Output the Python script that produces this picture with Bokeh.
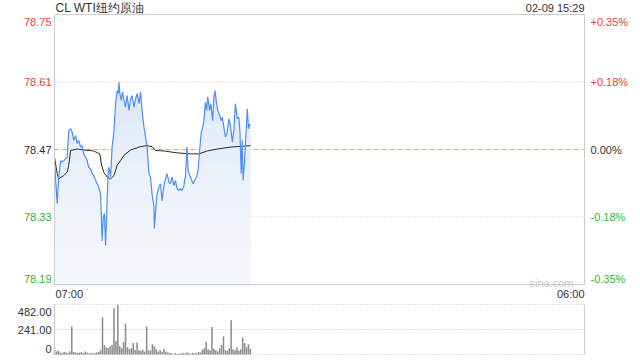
import numpy as np
from bokeh.plotting import figure
from bokeh.models import Range1d, Label
from bokeh.embed import file_html
from bokeh.resources import INLINE

# ---------------- data ----------------
title_text = "CL WTI纽约原油"
time_text = "02-09 15:29"
watermark = "sina.com"
base_price = 78.47
price_ticks = [78.19, 78.33, 78.47, 78.61, 78.75]
price_tick_labels = ["78.19", "78.33", "78.47", "78.61", "78.75"]
pct_labels = ["-0.35%", "-0.18%", "0.00%", "+0.18%", "+0.35%"]
x_labels = ["07:00", "06:00"]
session_minutes = 1380  # 07:00 -> 06:00 next day
vol_ticks = [0, 241, 482]
vol_tick_labels = ["0", "241.00", "482.00"]

# minutes after 07:00
price_min = [0, 7, 11, 16, 20, 24, 29, 33, 37, 42, 46, 50, 55, 59, 63, 68, 72, 76, 81, 85,
             89, 94, 98, 102, 107, 111, 115, 120, 124, 127, 130, 133, 137, 140, 142, 146, 150, 155, 159, 163,
             166, 168, 170, 174, 177, 181, 185, 189, 194, 198, 202, 207, 211, 215, 220, 224, 228, 233, 237, 241,
             246, 250, 254, 259, 260, 264, 267, 272, 276, 280, 285, 289, 293, 298, 302, 306, 311, 315, 319, 324,
             328, 332, 337, 341, 345, 348, 352, 357, 361, 365, 370, 374, 378, 382, 385, 389, 393, 396, 399, 404,
             407, 412, 415, 418, 422, 425, 430, 434, 437, 441, 445, 450, 454, 458, 463, 467, 471, 476, 480, 483,
             486, 489, 491, 495, 498, 502, 505, 508, 510]
price = [78.445, 78.358, 78.413, 78.447, 78.444, 78.447, 78.451, 78.454, 78.509, 78.513, 78.506, 78.489, 78.499, 78.482, 78.489, 78.475, 78.478, 78.461, 78.454, 78.447,
         78.433, 78.430, 78.420, 78.416, 78.406, 78.399, 78.392, 78.378, 78.281, 78.330, 78.337, 78.271, 78.364, 78.427, 78.433, 78.413, 78.475, 78.509, 78.565, 78.592,
         78.586, 78.610, 78.586, 78.572, 78.589, 78.572, 78.558, 78.582, 78.551, 78.575, 78.582, 78.558, 78.575, 78.586, 78.565, 78.589, 78.551, 78.516, 78.496, 78.475,
         78.420, 78.413, 78.378, 78.351, 78.306, 78.351, 78.378, 78.392, 78.399, 78.364, 78.395, 78.409, 78.420, 78.402, 78.399, 78.413, 78.395, 78.406, 78.389, 78.385,
         78.389, 78.385, 78.395, 78.416, 78.475, 78.427, 78.416, 78.406, 78.399, 78.406, 78.413, 78.427, 78.468, 78.506, 78.513, 78.530, 78.568, 78.551, 78.579, 78.551,
         78.565, 78.530, 78.579, 78.592, 78.565, 78.551, 78.541, 78.530, 78.537, 78.516, 78.496, 78.506, 78.534, 78.520, 78.485, 78.509, 78.565, 78.534, 78.537, 78.506,
         78.420, 78.489, 78.406, 78.447, 78.496, 78.554, 78.513, 78.523, 78.520]

avg_min = [0, 7, 11, 24, 33, 37, 42, 59, 76, 102, 118, 122, 128, 137, 146, 155, 163, 172, 181, 198,
           224, 241, 254, 263, 285, 319, 354, 376, 398, 424, 458, 493, 510]
avg_price = [78.454, 78.420, 78.409, 78.416, 78.423, 78.437, 78.468, 78.471, 78.469, 78.467, 78.461, 78.440, 78.423, 78.413, 78.409, 78.416, 78.437, 78.447, 78.458, 78.469,
             78.476, 78.478, 78.476, 78.468, 78.467, 78.463, 78.461, 78.461, 78.467, 78.471, 78.475, 78.477, 78.478]

vol_min = list(range(0, 511, 5))
volume = [60, 30, 35, 20, 15, 25, 20, 15, 30, 270, 25, 20, 15, 20, 25, 15, 30, 20, 10, 15,
          10, 15, 20, 25, 40, 360, 90, 70, 60, 80, 95, 445, 130, 480, 80, 60, 120, 300, 70, 50,
          60, 110, 45, 115, 40, 35, 45, 30, 270, 40, 35, 100, 80, 50, 30, 40, 25, 55, 30, 20,
          15, 10, 8, 12, 6, 10, 8, 15, 10, 20, 12, 8, 15, 10, 12, 25, 20, 45, 60, 120,
          50, 40, 265, 55, 40, 30, 60, 95, 175, 40, 35, 60, 330, 50, 40, 70, 35, 50, 165, 110,
          70, 100, 55]

# ---------------- layout (pixels) ----------------
W, H = 640, 360
FL, FR, FT, FB = 54, 584, 14, 284      # price frame
VT, VB = 304, 354                      # volume frame top / bottom

FONT = "Liberation Sans"
RED = "#f03c3c"
GREEN = "#2eb82e"
DARK = "#333333"
GRID = "#c4c4c4"
BORDER = "#cccccc"
BLUE = "#4f8ff0"

pmin, pmax = price_ticks[0], price_ticks[-1]
vmin, vmax = vol_ticks[0], vol_ticks[-1]
sx = (FR - FL) / session_minutes
sy = (FB - FT) / (pmax - pmin)
sv = (VB - VT) / (vmax - vmin)

p = figure(width=W, height=H,
           x_range=Range1d(0 - FL / sx, session_minutes + (W - FR) / sx),
           y_range=Range1d(pmin - (H - FB) / sy, pmax + FT / sy),
           output_backend="svg", toolbar_location=None,
           min_border=0, min_border_left=0, min_border_right=0, min_border_top=0, min_border_bottom=0)
p.extra_y_ranges = {"vol": Range1d(vmin - (H - VB) / sv, vmax + VT / sv)}
p.xaxis.visible = False
p.yaxis.visible = False
p.grid.visible = False
p.outline_line_color = None
p.background_fill_color = "white"
p.border_fill_color = "white"


def dy(px):
    return px / sy


def dx(px):
    return px / sx


def dv(px):
    return px / sv


# grid lines (price)
for t in price_ticks[1:-1]:
    p.segment(x0=[0], y0=[t], x1=[session_minutes], y1=[t], line_color=GRID, line_dash="1 2", line_width=1)
    if t == base_price:
        p.segment(x0=[0], y0=[t], x1=[session_minutes], y1=[t], line_color="#f29a6c",
                  line_dash="4 4", line_width=1)

# area with vertical fade
pr = np.array(price)
p.varea(x=price_min, y1=pmin, y2=pr, fill_color="#d6e4fa", fill_alpha=1.0)
for L in np.linspace(pmin + 0.04, price_ticks[3], 10):
    p.varea(x=price_min, y1=pmin, y2=np.minimum(pr, L), fill_color="white", fill_alpha=0.14)

p.line(avg_min, avg_price, line_color="#2a2a2a", line_width=1)
p.line(price_min, price, line_color=BLUE, line_width=1.2)

# price frame border
p.segment(x0=[0, 0, 0, session_minutes], y0=[pmin, pmax, pmin, pmin],
          x1=[session_minutes, session_minutes, 0, session_minutes], y1=[pmin, pmax, pmax, pmax],
          line_color=BORDER, line_width=1)

# volume panel
for t in vol_ticks:
    p.segment(x0=[0], y0=[t], x1=[session_minutes], y1=[t], line_color=GRID, line_dash="1 2",
              line_width=1, y_range_name="vol")
p.vbar(x=vol_min, top=volume, width=4, bottom=0, fill_color="#8c8c8c", line_color=None, y_range_name="vol")
p.segment(x0=[0, session_minutes], y0=[vmin, vmin], x1=[0, session_minutes], y1=[vmax, vmax],
          line_color=BORDER, line_width=1, y_range_name="vol")

# price / percent tick labels
n = len(price_ticks)
for i, (t, lab, pl) in enumerate(zip(price_ticks, price_tick_labels, pct_labels)):
    col = DARK if t == base_price else (RED if t > base_price else GREEN)
    yy = t - dy(7) if i == n - 1 else (t + dy(6) if i == 0 else t)
    p.add_layout(Label(x=0 - dx(3), y=yy, text=lab, text_align="right",
                       text_baseline="middle", text_font=FONT, text_font_size="11px", text_color=col))
    p.add_layout(Label(x=session_minutes + dx(6), y=yy, text=pl, text_align="left",
                       text_baseline="middle", text_font=FONT, text_font_size="11px", text_color=col))

# volume tick labels
nv = len(vol_ticks)
for i, (t, lab) in enumerate(zip(vol_ticks, vol_tick_labels)):
    yy = t - dv(7) if i == nv - 1 else (t + dv(6) if i == 0 else t)
    p.add_layout(Label(x=0 - dx(3), y=yy, y_range_name="vol", text=lab, text_align="right",
                       text_baseline="middle", text_font=FONT, text_font_size="11px", text_color=DARK))

# title, time stamp, watermark, time labels
p.add_layout(Label(x=0 + dx(1), y=pmax + dy(7), text=title_text, text_align="left",
                   text_baseline="middle", text_font=FONT, text_font_size="12px", text_color=DARK))
p.add_layout(Label(x=session_minutes, y=pmax + dy(7), text=time_text, text_align="right",
                   text_baseline="middle", text_font=FONT, text_font_size="11px", text_color=DARK))
p.add_layout(Label(x=session_minutes - dx(11), y=pmin + dy(2), text=watermark, text_align="right",
                   text_baseline="alphabetic", text_font=FONT, text_font_size="11px", text_color="#c8c8c8"))
p.add_layout(Label(x=0 + dx(1), y=pmin - dy(9), text=x_labels[0], text_align="left",
                   text_baseline="middle", text_font=FONT, text_font_size="11px", text_color=DARK))
p.add_layout(Label(x=session_minutes, y=pmin - dy(9), text=x_labels[1], text_align="right",
                   text_baseline="middle", text_font=FONT, text_font_size="11px", text_color=DARK))

open("out.html", "w").write(file_html(p, INLINE))
